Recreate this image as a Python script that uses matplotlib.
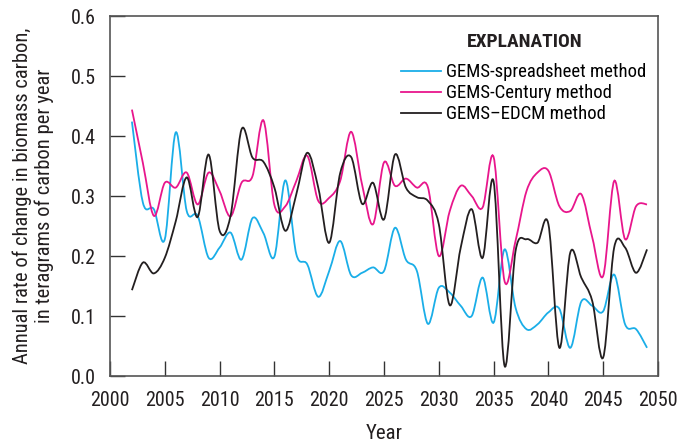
import matplotlib
matplotlib.use("Agg")
import matplotlib.pyplot as plt
import numpy as np
from matplotlib.path import Path
from matplotlib.patches import PathPatch
from matplotlib.lines import Line2D

plt.rcParams['font.family'] = ['Roboto Condensed', 'DejaVu Sans']

years = list(range(2002, 2050))

spreadsheet = [0.424, 0.289, 0.278, 0.228, 0.406, 0.275, 0.267, 0.197, 0.214, 0.239,
               0.194, 0.263, 0.238, 0.199, 0.326, 0.203, 0.186, 0.132, 0.175, 0.225,
               0.168, 0.172, 0.181, 0.175, 0.247, 0.194, 0.175, 0.087, 0.147, 0.139,
               0.117, 0.100, 0.164, 0.089, 0.211, 0.114, 0.078, 0.086, 0.106, 0.112,
               0.047, 0.124, 0.117, 0.108, 0.169, 0.086, 0.078, 0.047]

century = [0.444, 0.355, 0.267, 0.322, 0.314, 0.339, 0.286, 0.339, 0.308, 0.266,
           0.322, 0.333, 0.426, 0.285, 0.283, 0.325, 0.367, 0.292, 0.297, 0.325,
           0.407, 0.319, 0.253, 0.356, 0.317, 0.329, 0.314, 0.315, 0.200, 0.275,
           0.317, 0.300, 0.281, 0.365, 0.158, 0.225, 0.308, 0.339, 0.342, 0.283,
           0.275, 0.303, 0.231, 0.167, 0.325, 0.228, 0.283, 0.286]

edcm = [0.143, 0.189, 0.171, 0.197, 0.258, 0.331, 0.265, 0.369, 0.242, 0.267,
        0.411, 0.364, 0.357, 0.314, 0.242, 0.303, 0.372, 0.314, 0.222, 0.338,
        0.365, 0.287, 0.322, 0.261, 0.369, 0.314, 0.298, 0.292, 0.253, 0.118,
        0.214, 0.278, 0.197, 0.324, 0.017, 0.208, 0.228, 0.222, 0.253, 0.047,
        0.206, 0.164, 0.125, 0.031, 0.214, 0.214, 0.172, 0.211]

names = ['GEMS-spreadsheet method', 'GEMS-Century method', 'GEMS\u2013EDCM method']
colors = ['#1aaee8', '#e8168c', '#231f20']


def smooth_path(x, y):
    # bezier segments through each annual point (like a spreadsheet "smoothed line")
    x = np.asarray(x, float)
    y = np.asarray(y, float)
    n = len(x)
    verts = [(x[0], y[0])]
    codes = [Path.MOVETO]
    for i in range(n - 1):
        i0 = max(i - 1, 0)
        i3 = min(i + 2, n - 1)
        c1 = (x[i] + (x[i + 1] - x[i0]) / 6, y[i] + (y[i + 1] - y[i0]) / 6)
        c2 = (x[i + 1] - (x[i3] - x[i]) / 6, y[i + 1] - (y[i3] - y[i]) / 6)
        verts += [c1, c2, (x[i + 1], y[i + 1])]
        codes += [Path.CURVE4] * 3
    return Path(verts, codes)


fig = plt.figure(figsize=(6.99, 4.45), dpi=100)
ax = fig.add_axes([110 / 699, 1 - 376 / 445, 548 / 699, 360 / 445])

handles = []
for vals, c, name in zip([spreadsheet, century, edcm], colors, names):
    ax.add_patch(PathPatch(smooth_path(years, vals), fill=False, edgecolor=c, lw=1.3))
    handles.append(Line2D([], [], color=c, lw=1.3, label=name))

ax.set_xlim(2000, 2050)
ax.set_ylim(0, 0.6)
ax.set_xticks(range(2000, 2051, 5))
ax.set_yticks(np.arange(0, 0.61, 0.1))
ax.set_yticklabels(['0.0', '0.1', '0.2', '0.3', '0.4', '0.5', '0.6'])
ax.tick_params(direction='in', length=11, width=1, color='#333333', labelsize=14.5,
               colors='#231f20')
ax.tick_params(axis='x', pad=11)
ax.tick_params(axis='y', pad=10)
for s in ax.spines.values():
    s.set_color('#555555')
    s.set_linewidth(1.2)

ax.set_xlabel('Year', fontsize=15, labelpad=10, color='#231f20')
ax.set_ylabel('Annual rate of change in biomass carbon,\nin teragrams of carbon per year',
              fontsize=14.8, labelpad=12, color='#231f20', linespacing=1.15)

ax.text(0.757, 0.928, 'EXPLANATION', transform=ax.transAxes, ha='center', va='center',
        fontsize=14, fontweight='bold', color='#231f20')
ax.legend(handles=handles, loc='upper left', bbox_to_anchor=(0.50, 0.916),
          frameon=False, fontsize=13.5, handlelength=2.13, handletextpad=0.3,
          labelspacing=0.17)

fig.savefig('out.png', dpi=100)
